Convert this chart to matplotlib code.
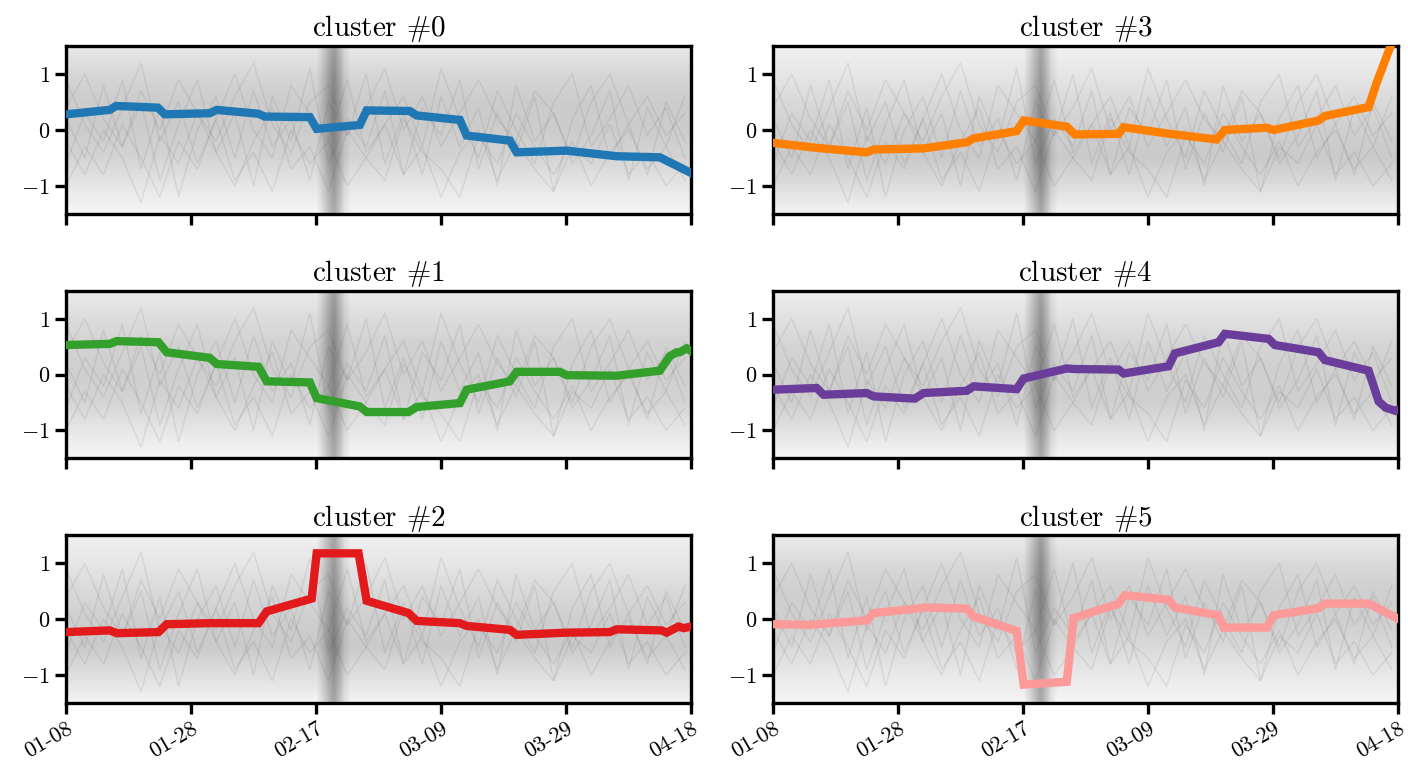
import numpy as np
import matplotlib
matplotlib.use("Agg")
import matplotlib.pyplot as plt

plt.rcParams['font.family'] = 'serif'
plt.rcParams['font.serif'] = ['cmr10']
plt.rcParams['mathtext.fontset'] = 'cm'
plt.rcParams['axes.formatter.use_mathtext'] = True
plt.rcParams['axes.unicode_minus'] = True

# ---------------- data ----------------
tick_days = [0, 20, 40, 60, 80, 100]
tick_labels = ['01-08', '01-28', '02-17', '03-09', '03-29', '04-18']

c0_days = [0, 7, 8, 14.7, 15.8, 23, 24.1, 30.8, 31.8, 39, 40.1, 47, 48.1, 55, 56.1, 63, 64.1,
           71, 72.1, 80.1, 88.1, 95, 97.7, 100]
c0_vals = [0.28, 0.36, 0.43, 0.40, 0.28, 0.30, 0.36, 0.29, 0.24, 0.23, 0.02, 0.09, 0.35, 0.34,
           0.26, 0.18, -0.10, -0.19, -0.40, -0.37, -0.47, -0.49, -0.64, -0.77]

c1_days = [0, 7, 8.1, 14.8, 16.1, 23, 24.1, 30.8, 32.1, 39, 40.1, 47, 48.1, 54.8, 56.1, 63,
           64.1, 71, 72.1, 79, 80.1, 88.1, 95, 96.6, 97.7, 98.2, 99.3, 100]
c1_vals = [0.53, 0.55, 0.60, 0.58, 0.40, 0.30, 0.19, 0.14, -0.12, -0.14, -0.42, -0.57, -0.67,
           -0.67, -0.58, -0.51, -0.27, -0.12, 0.05, 0.05, -0.01, -0.02, 0.07, 0.33, 0.40, 0.40,
           0.47, 0.42]

c2_days = [0, 7, 8.1, 14.8, 16.1, 23, 30.8, 32.1, 39.3, 40.1, 46.8, 48.1, 54.8, 56.1, 63, 64.1,
           71, 72.1, 80.1, 87, 88.1, 95.3, 96.1, 98, 98.8, 100]
c2_vals = [-0.23, -0.20, -0.25, -0.23, -0.09, -0.07, -0.07, 0.14, 0.37, 1.18, 1.18, 0.33, 0.11,
           -0.03, -0.07, -0.12, -0.19, -0.28, -0.24, -0.23, -0.18, -0.20, -0.24, -0.13, -0.16, -0.13]

c3_days = [0, 7, 15, 16.1, 24.1, 31, 32.1, 39, 40.1, 47, 48.3, 55.3, 56.1, 63.5, 71, 72.3, 79,
           80.1, 87.3, 88.3, 95.3, 96.6, 98.7, 100]
c3_vals = [-0.23, -0.32, -0.40, -0.35, -0.33, -0.22, -0.15, -0.02, 0.17, 0.06, -0.08, -0.07, 0.05,
           -0.07, -0.17, 0.0, 0.04, 0.0, 0.17, 0.25, 0.41, 0.85, 1.47, 1.8]

c4_days = [0, 7, 8.1, 15, 16.1, 22.7, 24.1, 31, 32.1, 39, 40.1, 47, 48.3, 55.3, 56.1, 63.3, 64.3,
           71.3, 72.3, 79.3, 80.3, 87.3, 88.3, 95.3, 96.9, 98, 99.6, 100]
c4_vals = [-0.27, -0.24, -0.36, -0.33, -0.39, -0.43, -0.33, -0.29, -0.21, -0.26, -0.07, 0.11,
           0.10, 0.09, 0.02, 0.15, 0.38, 0.58, 0.73, 0.64, 0.53, 0.40, 0.26, 0.07, -0.48, -0.59,
           -0.65, -0.63]

c5_days = [0, 5.9, 15, 16.1, 24.6, 31, 32.1, 39, 40.1, 47, 48.1, 55.3, 56.3, 63.3, 64.3, 71.3,
           72.1, 79, 80.1, 87.3, 88.3, 95.3, 100]
c5_vals = [-0.09, -0.10, -0.02, 0.11, 0.21, 0.19, 0.05, -0.21, -1.17, -1.12, 0.02, 0.28, 0.43,
           0.35, 0.21, 0.07, -0.15, -0.15, 0.07, 0.20, 0.28, 0.28, 0.01]

# haze of the many member series (darkness read by eye at these y levels)
haze_levels = [-1.5, -1.0, -0.5, 0.0, 0.5, 1.0, 1.5]
haze_c0 = [0.04, 0.10, 0.17, 0.20, 0.20, 0.16, 0.09]
haze_c1 = [0.04, 0.10, 0.17, 0.19, 0.18, 0.14, 0.08]
haze_c2 = [0.05, 0.13, 0.21, 0.19, 0.15, 0.10, 0.06]
haze_c3 = [0.05, 0.14, 0.21, 0.19, 0.15, 0.10, 0.06]
haze_c4 = [0.04, 0.12, 0.19, 0.19, 0.17, 0.12, 0.07]
haze_c5 = [0.04, 0.09, 0.15, 0.19, 0.19, 0.15, 0.08]
# darker vertical streak around 02-17..02-21
band_days = [40.0, 41.0, 42.0, 42.8, 43.6, 44.5, 45.5]
band_dark = [0.0, 0.10, 0.22, 0.30, 0.20, 0.06, 0.0]

# a few hand-drawn member traces (every 3 days) that give the streaky texture
trace_days = [0, 3, 6, 9, 12, 15, 18, 21, 24, 27, 30, 33, 36, 39, 42, 45, 48, 51, 54, 57, 60,
              63, 66, 69, 72, 75, 78, 81, 84, 87, 90, 93, 96, 99]
trace_a = [0.2, -0.5, 0.8, -0.3, 0.5, -0.9, 0.1, 0.9, -0.4, 0.3, -1.0, 0.6, -0.2, 1.1, -0.6, 0.2,
           -0.3, 0.7, -0.8, 0.4, -0.1, 0.9, -0.7, 0.3, -0.4, 0.6, -1.1, 0.2, 0.8, -0.5, 0.1, -0.8,
           0.5, -0.2]
trace_b = [-0.6, 0.3, -0.2, 0.9, -0.7, 0.4, -1.2, 0.0, 0.6, -0.5, 0.7, -0.3, 0.2, -0.9, 0.5, -0.1,
           1.0, -0.6, 0.3, -0.8, 0.6, -0.3, 0.4, -1.0, 0.8, -0.2, 0.3, -0.6, -0.1, 0.7, -0.9, 0.4,
           -0.3, 0.6]
trace_c = [0.9, 0.1, -0.4, 0.4, 1.2, -0.2, 0.5, -0.6, 0.2, 1.0, 0.0, -0.5, 0.8, 0.3, -0.2, 0.9,
           -0.4, 0.1, 0.6, -0.3, 1.1, 0.2, -0.5, 0.7, 0.0, -0.6, 0.5, 1.0, -0.3, 0.2, 0.8, -0.1,
           0.4, -0.5]
trace_d = [-1.0, -0.3, -0.8, 0.1, -0.5, -1.2, -0.2, -0.7, 0.2, -0.9, -0.4, -1.1, 0.0, -0.6, -0.2,
           -1.0, -0.5, 0.1, -0.8, -0.3, -1.2, -0.4, 0.0, -0.9, -0.2, -0.7, -1.1, -0.3, -0.6, 0.1,
           -0.8, -0.4, -1.0, -0.6]
trace_e = [0.4, 1.0, 0.2, -0.3, 0.7, 0.0, 0.9, 0.3, -0.2, 0.6, 1.2, 0.1, -0.4, 0.5, 0.8, -0.1,
           0.4, 1.1, 0.0, 0.6, -0.3, 0.3, 0.9, 0.2, -0.2, 0.7, 0.3, -0.5, 0.5, 1.0, 0.1, 0.6, -0.1,
           0.3]
trace_f = [-0.2, -0.8, 0.0, -0.5, -1.3, -0.1, -0.6, 0.3, -0.4, -1.0, -0.2, 0.4, -0.7, -0.3, -1.1,
           0.0, -0.5, -0.9, 0.2, -0.4, -0.7, -1.2, -0.1, -0.6, 0.3, -0.3, -0.8, -0.2, -1.0, -0.4,
           0.0, -0.7, -0.3, -0.9]
traces = [trace_a, trace_b, trace_c, trace_d, trace_e, trace_f]

clusters = [
    ('cluster $\\#0$', c0_days, c0_vals, '#1f78b4', haze_c0),
    ('cluster $\\#1$', c1_days, c1_vals, '#33a02c', haze_c1),
    ('cluster $\\#2$', c2_days, c2_vals, '#e31a1c', haze_c2),
    ('cluster $\\#3$', c3_days, c3_vals, '#ff7f00', haze_c3),
    ('cluster $\\#4$', c4_days, c4_vals, '#6a3d9a', haze_c4),
    ('cluster $\\#5$', c5_days, c5_vals, '#fb9a99', haze_c5),
]

# ---------------- figure ----------------
fig, axes = plt.subplots(3, 2, figsize=(14.08, 7.7), dpi=100, sharex=True)
fig.subplots_adjust(left=0.0469, right=0.9929, top=0.940, bottom=0.087,
                    wspace=0.131, hspace=0.46)

xs = np.linspace(0, 100, 401)
ys = np.linspace(-1.5, 1.5, 61)
band_col = np.interp(xs, band_days, band_dark)

order = [(0, 0), (1, 0), (2, 0), (0, 1), (1, 1), (2, 1)]
for k, ((r, c), (title, d, v, col, haze)) in enumerate(zip(order, clusters)):
    ax = axes[r, c]
    prof = np.interp(ys, haze_levels, haze)
    img = np.clip(prof[:, None] + band_col[None, :], 0, 1)
    ax.imshow(img, origin='lower', extent=[0, 100, -1.5, 1.5], aspect='auto',
              cmap='gray_r', vmin=0, vmax=1, interpolation='bilinear', zorder=0)
    for j, tr in enumerate(traces):
        tr_rot = traces[(j + k) % len(traces)]
        ax.plot(trace_days, tr_rot, color='0.35', lw=1.0, alpha=0.12, zorder=1)
    ax.plot(d, v, color=col, lw=6.0, solid_joinstyle='miter', zorder=3)
    ax.set_xlim(0, 100)
    ax.set_ylim(-1.5, 1.5)
    ax.set_yticks([-1, 0, 1])
    ax.set_yticklabels(['$-1$', '$0$', '$1$'])
    ax.set_xticks(tick_days)
    ax.set_title(title, fontsize=21, pad=7)
    for s in ax.spines.values():
        s.set_linewidth(2.4)
    ax.tick_params(axis='both', direction='out', length=8, width=2.4, labelsize=16)
    if r == 2:
        ax.set_xticklabels(tick_labels, rotation=30, ha='right', rotation_mode='anchor')

fig.savefig('out.png', dpi=100)
